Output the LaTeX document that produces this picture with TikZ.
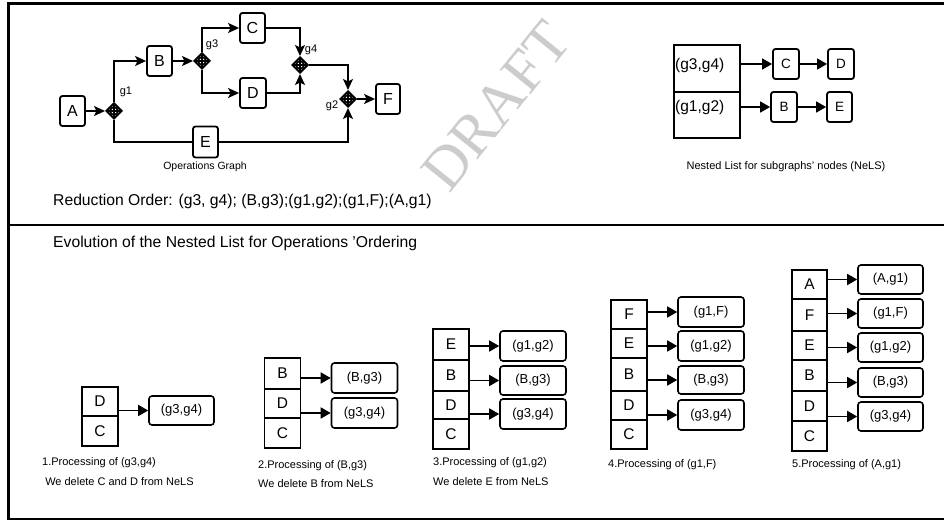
\documentclass[tikz,border=0pt]{standalone}
\usepackage{fontspec}
\setmainfont{Liberation Sans}
\newfontfamily\draftfont{Liberation Serif}
\usetikzlibrary{arrows.meta,shapes.geometric,calc}
\newcommand\fs[1]{\fontsize{#1bp}{#1bp}\selectfont}
\begin{document}
\begin{tikzpicture}[x=1bp,y=-1bp,
  lw/.style={line width=1.8bp},
  gbox/.style={draw,line width=1.8bp,rounded corners=2.5bp,inner sep=0pt,minimum width=25bp,minimum height=30bp,font=\fs{16}},
  gate/.style={draw,diamond,line width=2bp,minimum width=16bp,minimum height=16bp,inner sep=0pt,
    path picture={\draw[line width=1.7bp,shift={(path picture bounding box.center)}] (-6,0)--(6,0) (0,-6)--(0,6) (0,0) circle (3.8);}},
  glab/.style={inner sep=0pt,font=\fs{11}},
  garr/.style={line width=1.8bp,-{Stealth[length=11bp,width=10bp,inset=2.5bp]}},
  barr/.style={line width=1.6bp,-{Triangle[length=10bp,width=11bp]}},
  cell/.style={draw,line width=1.6bp,minimum width=36bp,inner sep=0pt,font=\fs{15.5}},
  lbox/.style={draw,line width=1.6bp,rounded corners=3bp,minimum width=66bp,inner sep=0pt,font=\fs{13}},
  captxt/.style={anchor=west,inner sep=0pt,font=\fs{11}},
  big/.style={anchor=west,inner sep=0pt,font=\fs{15.7}}
]
\useasboundingbox (0,0) rectangle (944,520);
% frame
\draw[line width=3bp] (944,4) -- (8,4) -- (8,519) -- (944,519);
\draw[line width=2bp] (8,225) -- (944,225);
% watermark
\node[rotate=51,text=black!20,font=\draftfont\fs{60},inner sep=0pt] (wm) at (496,106) {DRAFT};
% operations graph
\node[gbox] (A) at (72.5,111) {A};
\node[gate] (g1) at (114,111) {};
\node[gbox] (B) at (159.5,61) {B};
\node[gate] (g3) at (202,61) {};
\node[gbox] (C) at (252.5,28) {C};
\node[gbox,minimum width=26bp] (D) at (253,93) {D};
\node[gate] (g4) at (300,65) {};
\node[gate] (g2) at (348,99) {};
\node[gbox,minimum width=24bp] (F) at (388,99) {F};
\node[gbox,minimum height=31bp] (E) at (205.5,142) {E};
\node[glab] (lg1) at (126,92) {g1};
\node[glab] (lg3) at (212,45) {g3};
\node[glab] (lg4) at (311,50) {g4};
\node[glab] (lg2) at (332,106) {g2};
\node[glab,font=\fs{10.5}] (opg) at (205,167) {Operations Graph};
\draw[garr] (A) -- (g1);
\draw[garr] (g1.north) |- (B.west);
\draw[garr] (B) -- (g3);
\draw[garr] (g3.north) |- (C.west);
\draw[garr] (g3.south) |- (D.west);
\draw[garr] (C.east) -| (g4.north);
\draw[garr] (D.east) -| (g4.south);
\draw[garr] (g4.east) -| (g2.north);
\draw[garr] (g2) -- (F);
\draw[lw] (g1.south) |- (E.west);
\draw[garr] (E.east) -| (g2.south);
% NeLS
\node[draw,lw,minimum width=66bp,minimum height=47bp,inner sep=0pt] (n1) at (707,68.5) {};
\node[draw,lw,minimum width=66bp,minimum height=46bp,inner sep=0pt] (n2) at (707,115) {};
\node[anchor=west,inner sep=1bp,font=\fs{15.5}] (t1) at (674,65) {(g3,g4)};
\node[anchor=west,inner sep=1bp,font=\fs{15.5}] (t2) at (674,107) {(g1,g2)};
\node[gbox,minimum width=26bp,font=\fs{13.5}] (nC) at (786,64) {C};
\node[gbox,minimum width=26bp,font=\fs{13.5}] (nD) at (841,64) {D};
\node[gbox,minimum width=26bp,font=\fs{13.5}] (nB) at (784,107) {B};
\node[gbox,minimum width=25bp,font=\fs{13.5}] (nE) at (839.5,107) {E};
\draw[barr] (n1.east |- nC.west) -- (nC.west);
\draw[barr] (nC) -- (nD);
\draw[barr] (n2.east |- nB.west) -- (nB.west);
\draw[barr] (nB) -- (nE);
\node[glab] (nels) at (786,167) {Nested List for subgraphs’ nodes (NeLS)};
% texts
\node[big] (red) at (53,201) {Reduction Order: (g3, g4); (B,g3);(g1,g2);(g1,F);(A,g1)};
\node[big] (evo) at (53,243) {Evolution of the Nested List for Operations ’Ordering};
% stage 1
\node[cell,minimum height=29bp] (s1d) at (100,401.5) {D};
\node[cell,minimum height=30bp] (s1c) at (100,431) {C};
\node[lbox,minimum width=65bp,minimum height=29bp] (b1a) at (181.5,410.5) {(g3,g4)};
\draw[barr] (s1d.east |- b1a.west) -- (b1a.west);
\node[captxt] (c1a) at (42,463) {1.Processing of (g3,g4)};
\node[captxt] (c1b) at (42,482) {\ We delete C and D from NeLS};
% stage 2
\node[cell,minimum width=36bp,minimum height=31bp] (s2b) at (282.5,373.5) {B};
\node[cell,minimum width=36bp,minimum height=29bp] (s2d) at (282.5,403.5) {D};
\node[cell,minimum width=36bp,minimum height=30bp] (s2c) at (282.5,433) {C};
\node[lbox,minimum width=66bp,minimum height=30bp] (b2a) at (364.5,378) {(B,g3)};
\node[lbox,minimum width=66bp,minimum height=30bp] (b2b) at (364.5,413) {(g3,g4)};
\draw[barr] (s2b.east |- b2a.west) -- (b2a.west);
\draw[barr] (s2d.east |- b2b.west) -- (b2b.west);
\node[captxt] (c2a) at (258,466) {2.Processing of (B,g3)};
\node[captxt] (c2b) at (258,484) {We delete B from NeLS};
% stage 3
\node[cell,minimum height=31bp] (s3e) at (451,344.5) {E};
\node[cell,minimum height=31bp] (s3b) at (451,375.5) {B};
\node[cell,minimum height=28bp] (s3d) at (451,405) {D};
\node[cell,minimum height=30bp] (s3c) at (451,434) {C};
\node[lbox,minimum height=30bp] (b3a) at (533,346) {(g1,g2)};
\node[lbox,minimum height=29bp] (b3b) at (533,380.5) {(B,g3)};
\node[lbox,minimum height=30bp] (b3c) at (533,414) {(g3,g4)};
\draw[barr] (s3e.east |- b3a.west) -- (b3a.west);
\draw[barr] (s3b.east |- b3b.west) -- (b3b.west);
\draw[barr] (s3d.east |- b3c.west) -- (b3c.west);
\node[captxt] (c3a) at (433,463) {3.Processing of (g1,g2)};
\node[captxt] (c3b) at (433,482) {We delete E from NeLS};
% stage 4
\node[cell,minimum height=29bp] (s4f) at (629,314.5) {F};
\node[cell,minimum height=29bp] (s4e) at (629,343.5) {E};
\node[cell,minimum height=33bp] (s4b) at (629,374.5) {B};
\node[cell,minimum height=29bp] (s4d) at (629,405.5) {D};
\node[cell,minimum height=29bp] (s4c) at (629,434.5) {C};
\node[lbox,minimum height=30bp] (b4a) at (711,312) {(g1,F)};
\node[lbox,minimum height=30bp] (b4b) at (711,346) {(g1,g2)};
\node[lbox,minimum height=28bp] (b4c) at (711,380) {(B,g3)};
\node[lbox,minimum height=30bp] (b4d) at (711,415) {(g3,g4)};
\draw[barr] (s4f.east |- b4a.west) -- (b4a.west);
\draw[barr] (s4e.east |- b4b.west) -- (b4b.west);
\draw[barr] (s4b.east |- b4c.west) -- (b4c.west);
\draw[barr] (s4d.east |- b4d.west) -- (b4d.west);
\node[captxt] (c4a) at (608,465) {4.Processing of (g1,F)};
% stage 5
\node[cell,minimum width=35bp,minimum height=29bp] (s5a) at (809.5,284.5) {A};
\node[cell,minimum width=35bp,minimum height=32bp] (s5f) at (809.5,315) {F};
\node[cell,minimum width=35bp,minimum height=29bp] (s5e) at (809.5,345.5) {E};
\node[cell,minimum width=35bp,minimum height=31bp] (s5b) at (809.5,375.5) {B};
\node[cell,minimum width=35bp,minimum height=30bp] (s5d) at (809.5,406) {D};
\node[cell,minimum width=35bp,minimum height=30bp] (s5c) at (809.5,436) {C};
\node[lbox,minimum width=65bp,minimum height=29bp] (b5a) at (890.5,279.5) {(A,g1)};
\node[lbox,minimum width=65bp,minimum height=29bp] (b5b) at (890.5,313.5) {(g1,F)};
\node[lbox,minimum width=65bp,minimum height=29bp] (b5c) at (890.5,347.5) {(g1,g2)};
\node[lbox,minimum width=65bp,minimum height=29bp] (b5d) at (890.5,382.5) {(B,g3)};
\node[lbox,minimum width=65bp,minimum height=29bp] (b5e) at (890.5,416.5) {(g3,g4)};
\draw[barr] (s5a.east |- b5a.west) -- (b5a.west);
\draw[barr] (s5f.east |- b5b.west) -- (b5b.west);
\draw[barr] (s5e.east |- b5c.west) -- (b5c.west);
\draw[barr] (s5b.east |- b5d.west) -- (b5d.west);
\draw[barr] (s5d.east |- b5e.west) -- (b5e.west);
\node[captxt] (c5a) at (792,465) {5.Processing of (A,g1)};
\end{tikzpicture}
\end{document}
